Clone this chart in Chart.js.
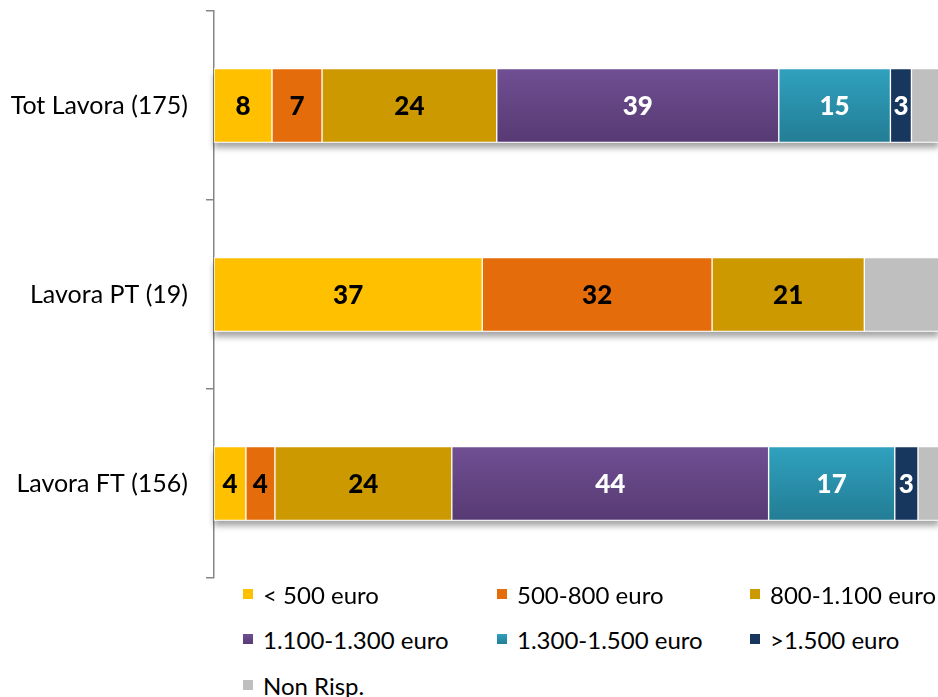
<!DOCTYPE html>
<html>
<head>
<meta charset="utf-8">
<script src="https://cdn.jsdelivr.net/npm/chart.js@4.4.1/dist/chart.umd.min.js"></script>
<style>
  html, body { margin: 0; padding: 0; background: #fff; overflow: hidden; }
  #wrap { position: relative; width: 940px; height: 697px; }
  #grafico { position: absolute; left: 0; top: 0; }
  .leg { position: absolute; font-family: Lato, sans-serif; font-size: 24px; color: #000;
         display: flex; align-items: center; white-space: nowrap; height: 30px; }
  .leg span.box { width: 10px; height: 10px; margin-right: 10px; display: inline-block; }
</style>
</head>
<body>
<div id="wrap">
  <canvas id="grafico" width="940" height="580"></canvas>
  <div id="leyenda"></div>
</div>
<script>
const categorie = ["Tot Lavora (175)", "Lavora PT (19)", "Lavora FT (156)"];
const fasce = ["< 500 euro", "500-800 euro", "800-1.100 euro", "1.100-1.300 euro", "1.300-1.500 euro", ">1.500 euro", "Non Risp."];

// percentuali (etichette arrotondate all'intero)
const meno500 = [8.0, 37.0, 4.4];
const da500a800 = [6.9, 31.7, 4.0];
const da800a1100 = [24.1, 21.0, 24.4];
const da1100a1300 = [38.9, 0, 43.7];
const da1300a1500 = [15.4, 0, 17.4];
const oltre1500 = [2.9, 0, 3.2];
const nonRisp = [3.8, 10.3, 2.9];

const valori = [meno500, da500a800, da800a1100, da1100a1300, da1300a1500, oltre1500, nonRisp];
// colore alto, colore basso (gradiente), colore etichetta
const colori = [
  ["#FFC000", "#FFC000", "#000"],
  ["#E46C0A", "#E46C0A", "#000"],
  ["#CC9A00", "#CC9A00", "#000"],
  ["#704F93", "#573A73", "#fff"],
  ["#30A1BF", "#237D94", "#fff"],
  ["#17375E", "#17375E", "#fff"],
  ["#BFBFBF", "#BFBFBF", null]
];
const spessore = 74;

function coloreBarra(i) {
  return function (ctx) {
    const chart = ctx.chart;
    if (!chart.chartArea || colori[i][0] === colori[i][1]) return colori[i][0];
    const yc = chart.scales.y.getPixelForValue(ctx.dataIndex);
    const g = chart.ctx.createLinearGradient(0, yc - spessore / 2, 0, yc + spessore / 2);
    g.addColorStop(0, colori[i][0]);
    g.addColorStop(1, colori[i][1]);
    return g;
  };
}

const datasets = fasce.map((f, i) => ({
  label: f,
  data: valori[i],
  backgroundColor: coloreBarra(i),
  borderColor: "#fff",
  borderWidth: 1,
  borderSkipped: false,
  barThickness: spessore,
  labelColor: colori[i][2]
}));

// ombra sotto ogni barra
const pluginOmbra = {
  id: "ombra",
  beforeDatasetsDraw(chart) {
    const c = chart.ctx;
    const x0 = chart.scales.x.getPixelForValue(0);
    const x1 = chart.scales.x.getPixelForValue(100);
    c.save();
    c.shadowColor = "rgba(0,0,0,0.35)";
    c.shadowBlur = 6;
    c.shadowOffsetY = 5;
    c.fillStyle = "#fff";
    categorie.forEach((_, i) => {
      const yc = chart.scales.y.getPixelForValue(i);
      c.fillRect(x0, yc - spessore / 2, x1 - x0, spessore);
    });
    c.restore();
  }
};

const pluginEtichette = {
  id: "etichette",
  afterDatasetsDraw(chart) {
    const c = chart.ctx;
    c.save();
    c.font = "900 26px Lato, sans-serif";
    c.textAlign = "center";
    c.textBaseline = "middle";
    chart.data.datasets.forEach((ds, i) => {
      if (!ds.labelColor) return;
      chart.getDatasetMeta(i).data.forEach((el, j) => {
        if (!ds.data[j]) return;
        const p = el.getCenterPoint();
        c.fillStyle = ds.labelColor;
        c.fillText(Math.round(ds.data[j]), p.x, p.y + 1);
      });
    });
    c.restore();
  }
};

const grafico = new Chart(document.getElementById("grafico"), {
  type: "bar",
  data: { labels: categorie, datasets: datasets },
  options: {
    indexAxis: "y",
    responsive: false,
    animation: false,
    layout: { padding: { top: 11, right: 1, bottom: 2, left: 0 } },
    plugins: { legend: { display: false }, tooltip: { enabled: false } },
    scales: {
      x: { stacked: true, min: 0, max: 100, display: false },
      y: {
        stacked: true,
        afterFit(scale) {
          scale.width = 214;
          scale.paddingTop = 0;
          scale.paddingBottom = 0;
        },
        grid: { offset: true, drawOnChartArea: false, drawTicks: true, tickLength: 8, color: "#868686", lineWidth: 1.5 },
        border: { display: true, color: "#868686", width: 1.5 },
        ticks: { padding: 18, color: "#000", font: { family: "Lato, sans-serif", size: 25 } }
      }
    }
  },
  plugins: [pluginOmbra, pluginEtichette]
});

// legenda HTML costruita dai dataset
const colonne = [243, 497, 750];
const righe = [594, 639, 685];
const leyenda = document.getElementById("leyenda");
grafico.data.datasets.forEach((ds, i) => {
  const d = document.createElement("div");
  d.className = "leg";
  d.style.left = colonne[i % 3] + "px";
  d.style.top = (righe[Math.floor(i / 3)] - 15) + "px";
  const b = document.createElement("span");
  b.className = "box";
  b.style.background = "linear-gradient(" + colori[i][0] + "," + colori[i][1] + ")";
  d.appendChild(b);
  d.appendChild(document.createTextNode(ds.label));
  leyenda.appendChild(d);
});
</script>
</body>
</html>
